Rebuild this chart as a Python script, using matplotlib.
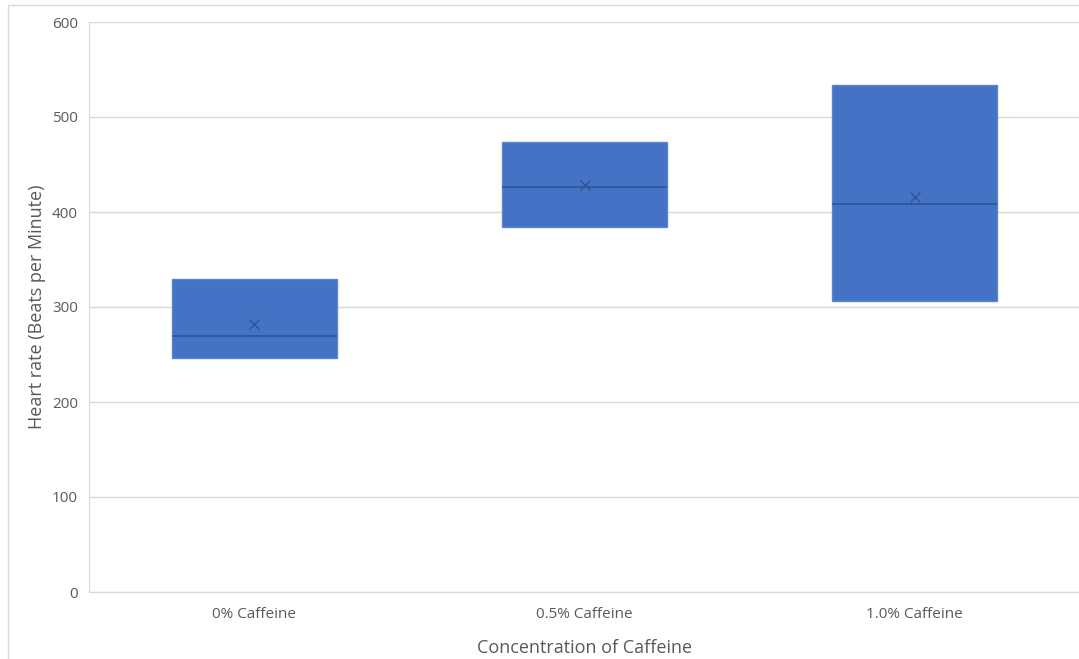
import matplotlib
matplotlib.use("Agg")
import matplotlib.pyplot as plt
from matplotlib.patches import Rectangle

categories = ["0% Caffeine", "0.5% Caffeine", "1.0% Caffeine"]
q1 = [246, 384, 306]
median = [270, 426, 408]
q3 = [330, 474, 534]
mean = [282, 428, 416]
whislo = [246, 384, 306]
whishi = [330, 474, 534]
yticks = [0, 100, 200, 300, 400, 500, 600]

plt.rcParams['font.family'] = ['Open Sans', 'DejaVu Sans']

fig = plt.figure(figsize=(10.79, 6.59), dpi=100)
fig.patch.set_facecolor('white')
ax = fig.add_axes([89/1079, 1-592/659, (1080-89)/1079, (592-22)/659])

stats = []
for i, c in enumerate(categories):
    stats.append(dict(label=c, q1=q1[i], med=median[i], q3=q3[i],
                      whislo=whislo[i], whishi=whishi[i], mean=mean[i], fliers=[]))

box_color = '#4472C4'
dark = '#2F5597'
ax.bxp(stats, positions=range(len(categories)), widths=0.5, patch_artist=True,
       showmeans=True, showcaps=False, showfliers=False,
       boxprops=dict(facecolor=box_color, edgecolor='#5B85D0', linewidth=1.0),
       medianprops=dict(color=dark, linewidth=1.2),
       whiskerprops=dict(color=box_color, linewidth=1.0),
       meanprops=dict(marker='x', markeredgecolor=dark, markersize=7, markeredgewidth=1.0),
       zorder=3)

ax.set_xlim(-0.5, len(categories) - 0.5)
ax.set_ylim(0, 600)
ax.set_yticks(yticks)
ax.set_yticklabels([str(t) for t in yticks])
ax.set_xticks(range(len(categories)))
ax.set_xticklabels(categories)
ax.yaxis.grid(True, color='#D9D9D9', linewidth=1.0, zorder=0)
ax.set_axisbelow(True)
for s in ['top', 'right']:
    ax.spines[s].set_visible(False)
ax.spines['bottom'].set_color('#D9D9D9')
ax.spines['left'].set_color('#D9D9D9')
ax.tick_params(axis='both', length=0, colors='#595959', labelsize=11)
ax.tick_params(axis='y', pad=8)
ax.tick_params(axis='x', pad=11)

ax.set_xlabel("Concentration of Caffeine", fontsize=13, color='#595959', labelpad=12)
ax.set_ylabel("Heart rate (Beats per Minute)", fontsize=13, color='#595959', labelpad=4)

fig.patches.append(Rectangle((8/1079, -0.1), 1.2, 1 - 5/659 + 0.1, transform=fig.transFigure,
                             fill=False, edgecolor='#D9D9D9', linewidth=1.0))

fig.savefig("out.png", dpi=100)
